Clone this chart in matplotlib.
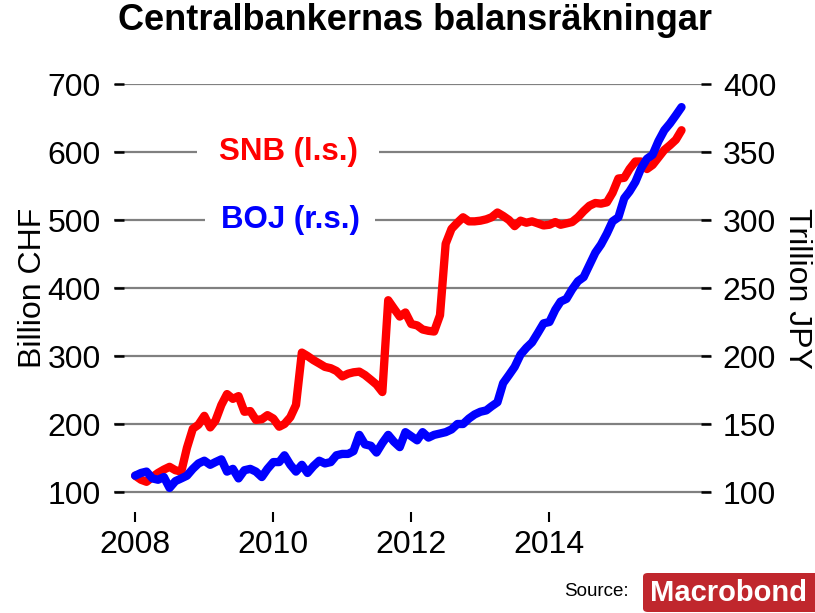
import matplotlib
matplotlib.use('Agg')
import matplotlib.pyplot as plt
import matplotlib.dates as mdates
from matplotlib.patches import FancyBboxPatch
import pandas as pd
from datetime import datetime

# monthly observations, Jan 2008 - Dec 2015
months = pd.date_range('2008-01-01', periods=96, freq='MS')

# SNB balance sheet, billion CHF (left scale)
snb = [124, 118, 115, 122, 128, 133, 137, 132, 130, 165, 193, 199,
       212, 195, 205, 228, 244, 237, 241, 218, 219, 206, 207, 213,
       208, 196, 200, 210, 228, 305, 300, 294, 289, 284, 282, 278,
       270, 274, 276, 277, 272, 265, 258, 247, 382, 370, 358, 364,
       347, 345, 339, 337, 336, 360, 465, 487, 496, 504, 498, 498,
       499, 501, 504, 511, 506, 500, 491, 499, 496, 498, 495, 492,
       493, 497, 493, 495, 497, 504, 513, 521, 525, 524, 526, 540,
       561, 562, 575, 586, 586, 575, 581, 592, 603, 610, 618, 632]

# BOJ balance sheet, trillion JPY (right scale)
boj = [112, 114, 115, 110, 109, 111, 103, 108, 110, 112, 117, 121,
       123, 120, 122, 124, 115, 117, 110, 116, 117, 115, 111, 117,
       122, 122, 127, 120, 115, 120, 114, 119, 123, 121, 122, 127,
       128, 128, 130, 142, 135, 134, 129, 136, 142, 137, 133, 144,
       141, 138, 144, 140, 142, 143, 144, 146, 150, 150, 154, 157,
       159, 160, 163, 166, 180, 186, 192, 201, 206, 210, 217, 224,
       225, 234, 240, 242, 249, 255, 258, 267, 276, 282, 290, 299,
       302, 316, 321, 328, 338, 345, 348, 358, 366, 371, 377, 383]

left_ticks = list(range(100, 701, 100))
right_ticks = list(range(100, 401, 50))
year_ticks = [datetime(y, 1, 1) for y in (2008, 2010, 2012, 2014)]

plt.rcParams['font.family'] = ['Liberation Sans', 'DejaVu Sans']

W, H = 815, 613
fig = plt.figure(figsize=(W / 100, H / 100), dpi=100)
ax = fig.add_axes([114 / W, 1 - 512 / H, (711 - 114) / W, (512 - 84) / H])
ax2 = ax.twinx()

ax.plot(months, snb, color='#ff0000', lw=6, solid_capstyle='round',
        solid_joinstyle='round', clip_on=False, zorder=3)
ax2.plot(months, boj, color='#0000ff', lw=6, solid_capstyle='round',
         solid_joinstyle='round', clip_on=False, zorder=3)

ax.set_xlim(datetime(2007, 9, 11), datetime(2016, 5, 5))
ax.set_ylim(100 - 20 / 0.68, 700)
ax2.set_ylim(100 - 20 / 1.36, 400)
ax.set_yticks(left_ticks)
ax2.set_yticks(right_ticks)
ax.set_xticks(year_ticks)
ax.xaxis.set_major_formatter(mdates.DateFormatter('%Y'))

ax.grid(axis='y', color='#808080', lw=1.6)
ax.grid(axis='x', visible=False)
ax.set_axisbelow(True)

for a in (ax, ax2):
    for s in a.spines.values():
        s.set_visible(False)

ax.tick_params(axis='y', direction='in', length=7, width=1.8, labelsize=23, pad=9.5)
ax2.tick_params(axis='y', direction='in', length=7, width=1.8, labelsize=23, pad=8.5)
ax.tick_params(axis='x', direction='out', length=7, width=1.5, labelsize=23, pad=6)

# series labels sitting on the grid lines
ax.text(datetime(2010, 3, 20), 600, 'SNB (l.s.)', color='#ff0000', fontsize=22.5,
        fontweight='bold', ha='center', va='center', zorder=2.5,
        bbox=dict(boxstyle='square,pad=0.7', fc='white', ec='none'))
ax.text(datetime(2010, 3, 30), 500, 'BOJ (r.s.)', color='#0000ff', fontsize=22.5,
        fontweight='bold', ha='center', va='center', zorder=2.5,
        bbox=dict(boxstyle='square,pad=0.5', fc='white', ec='none'))

fig.text(415 / W, 1 - 21 / H, 'Centralbankernas balansräkningar', fontsize=26,
         fontweight='bold', ha='center', va='center')
fig.text(33 / W, 1 - 288 / H, 'Billion CHF', fontsize=23, rotation=90,
         ha='center', va='center')
fig.text(797 / W, 1 - 288 / H, 'Trillion JPY', fontsize=23, rotation=-90,
         ha='center', va='center')

# source + logo
fig.text(596 / W, 1 - 591 / H, 'Source:', fontsize=13.5, ha='center', va='center')
fig.patches.append(FancyBboxPatch((643 / W, 1 - 612 / H), (840 - 643) / W, 39 / H,
                                  boxstyle='round,pad=0,rounding_size=0.006',
                                  transform=fig.transFigure, fc='#c0272d', ec='none'))
fig.text(728 / W, 1 - 593 / H, 'Macrobond', color='white', fontsize=21,
         fontweight='bold', ha='center', va='center')

fig.savefig('out.png', dpi=100)
